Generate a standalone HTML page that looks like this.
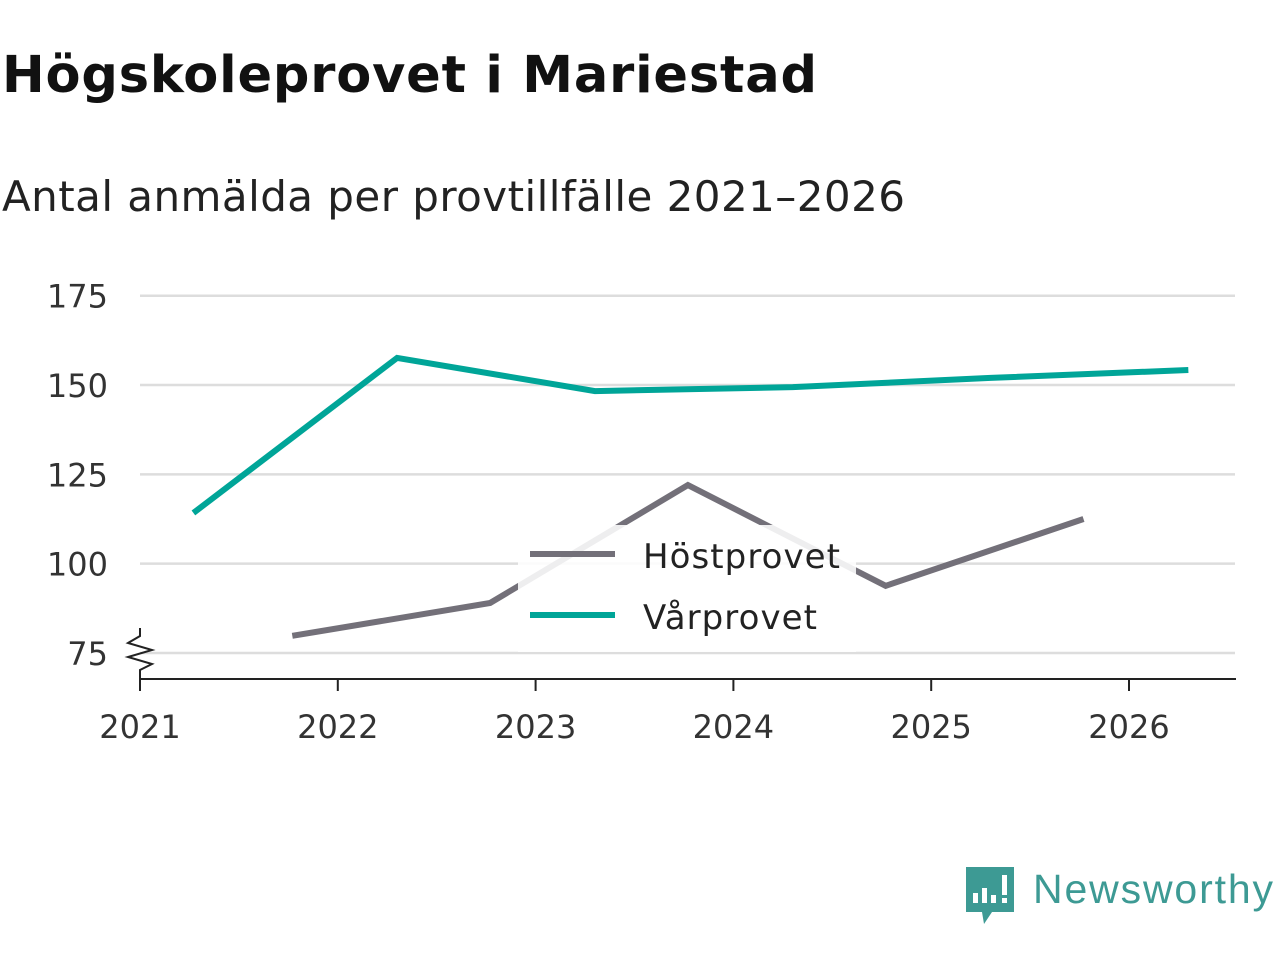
<!DOCTYPE html>
<html><head><meta charset="utf-8"><style>
body{margin:0;width:1280px;height:960px;background:#fff;font-family:"DejaVu Sans","Liberation Sans",sans-serif;overflow:hidden}
</style></head><body>
<svg width="1280" height="960" xmlns="http://www.w3.org/2000/svg">
<text x="2" y="92" font-size="51" font-weight="bold" fill="#111" textLength="815">Högskoleprovet i Mariestad</text>
<text x="2" y="211" font-size="42" fill="#222" textLength="903">Antal anmälda per provtillfälle 2021–2026</text>
<g id="grid"></g><g id="axes"></g><g id="lines"></g>
<g>
<rect x="518" y="525" width="338" height="127" fill="#fff" opacity="0.88"/>
<line x1="530" y1="554" x2="615" y2="554" stroke="#737079" stroke-width="6"/>
<text x="643" y="568" font-size="34" fill="#222" textLength="197">Höstprovet</text>
<line x1="530" y1="615" x2="615" y2="615" stroke="#00a598" stroke-width="6"/>
<text x="643" y="629" font-size="34" fill="#222" textLength="174">Vårprovet</text>
</g>
<g>
<path d="M966 867 h48 v45 h-22 l-8 12 l-2 -12 h-16 z" fill="#3d9a94"/>
<rect x="973" y="893" width="5" height="10" fill="#fff"/><rect x="982" y="888" width="5" height="15" fill="#fff"/><rect x="991" y="895" width="5" height="8" fill="#fff"/><rect x="1002" y="875" width="5" height="20" fill="#fff"/><rect x="1002" y="898" width="5" height="5" fill="#fff"/>
<text x="1033" y="903" font-size="41" fill="#3d9a94" font-family="Liberation Sans, sans-serif" textLength="240">Newsworthy</text>
</g>
</svg>
<script>
const yTicks=[75,100,125,150,175];
const xTicks=[2021,2022,2023,2024,2025,2026];
const hostX=[2021.77,2022.77,2023.77,2024.77,2025.77];
const hostY=[79.8,89,122,93.8,112.5];
const varX=[2021.27,2022.3,2023.3,2024.3,2025.3,2026.3];
const varY=[114.2,157.6,148.3,149.4,152,154.2];
const NS="http://www.w3.org/2000/svg";
const sx=v=>140+(v-2021)*197.8;
const sy=v=>653-(v-75)*3.573;
function mk(t,a,p){const e=document.createElementNS(NS,t);for(const k in a)e.setAttribute(k,a[k]);p.appendChild(e);return e;}
const g=document.getElementById('grid'),ax=document.getElementById('axes'),ln=document.getElementById('lines');
yTicks.forEach(v=>{
 const l=mk('line',{x1:140,x2:1235,y1:sy(v),y2:sy(v),stroke:'#ddd','stroke-width':2.5},g);
 
 
 const t=mk('text',{x:108,y:sy(v)+12,'font-size':32,fill:'#333','text-anchor':'end'},ax);t.textContent=v;
 
 
});
const base=mk('line',{x1:140,x2:1236,y1:679,y2:679,stroke:'#222','stroke-width':2},ax);


xTicks.forEach(v=>{
 mk('line',{x1:sx(v),x2:sx(v),y1:679,y2:691,stroke:'#222','stroke-width':2},ax);
 const t=mk('text',{x:sx(v),y:738,'font-size':32,fill:'#333','text-anchor':'middle'},ax);t.textContent=v;
 
 
});
const br=mk('polyline',{points:'140,628 140,636 128,643 152,650 128,657 152,664 140,670 140,679',fill:'none',stroke:'#222','stroke-width':2},ax);


function series(xs,ys,c,n){const p=mk('polyline',{points:xs.map((x,i)=>sx(x)+','+sy(ys[i])).join(' '),fill:'none',stroke:c,'stroke-width':6},ln);
 
 }
series(hostX,hostY,'#737079','host-line');
series(varX,varY,'#00a598','var-line');
</script>
</body></html>
